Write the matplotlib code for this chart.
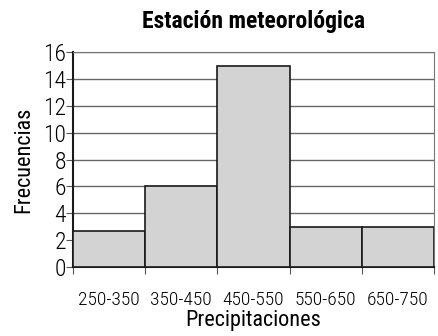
import numpy as np
import matplotlib
matplotlib.use("Agg")
from matplotlib import pyplot as plt

intervalos = ['250-350', '350-450', '450-550', '550-650', '650-750']
frecuencias = [2.7, 6, 15, 3, 3]
yticks = [0, 2, 4, 6, 8, 10, 12, 14, 16]

plt.rcParams['font.family'] = ['Roboto Condensed', 'DejaVu Sans']
plt.rcParams['font.weight'] = 'light'

fig = plt.figure(figsize=(4.38, 3.36), dpi=100)
ax = fig.add_axes([0.1667, 0.205, 0.824, 0.640])

x = np.arange(len(intervalos))
ax.bar(x, frecuencias, width=1.0, color='#d3d3d3', edgecolor='#1a1a1a',
       linewidth=1.2, zorder=3)

ax.set_xlim(-0.5, len(intervalos) - 0.5)
ax.set_ylim(0, 16)
ax.set_yticks(yticks)
ax.set_yticklabels([str(v) for v in yticks], fontsize=17)
ax.yaxis.grid(True, color='#666666', linewidth=1.0, zorder=0)

# ticks at the class limits, labels centred on each bar
ax.set_xticks(np.arange(len(intervalos) + 1) - 0.5)
ax.set_xticklabels([])
ax.set_xticks(x, minor=True)
ax.set_xticklabels(intervalos, minor=True, fontsize=14)
ax.tick_params(axis='x', which='minor', length=0, pad=17)
ax.tick_params(axis='x', which='major', length=5, color='#555555')
ax.tick_params(axis='y', length=5, color='#555555', pad=0)

for lado in ['top', 'right']:
    ax.spines[lado].set_color('#777777')
ax.spines['left'].set_color('#1a1a1a')
ax.spines['left'].set_linewidth(1.5)
ax.spines['bottom'].set_color('#1a1a1a')
ax.spines['bottom'].set_linewidth(1.5)

ax.set_ylabel('Frecuencias', fontsize=16, labelpad=6)
ax.set_xlabel('Precipitaciones', fontsize=16, labelpad=1)
ax.set_title('Estación meteorológica', fontsize=17, fontweight='bold', pad=17)

plt.savefig('out.png', dpi=100)
